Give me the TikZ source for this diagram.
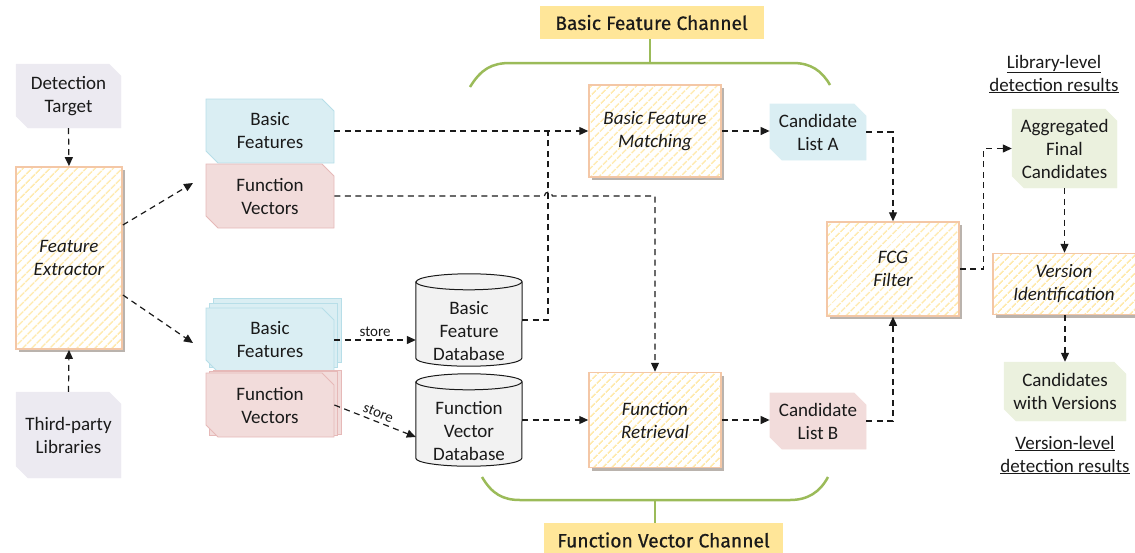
\documentclass[tikz,border=0pt]{standalone}
\usepackage{fontspec}
\setmainfont{Carlito}
\newfontfamily\chfont{Fira Sans}[FakeBold=0.6]
\usetikzlibrary{arrows.meta,shapes.misc,patterns.meta,shadows,calc}
\definecolor{lav}{HTML}{ECEAF1}
\definecolor{blu}{HTML}{DAEEF3}
\definecolor{bluD}{HTML}{B7DEE8}
\definecolor{pnk}{HTML}{F2DCDB}
\definecolor{pnkD}{HTML}{E6B9B8}
\definecolor{grn}{HTML}{EBF1DE}
\definecolor{hatch}{HTML}{FFEAAE}
\definecolor{procB}{HTML}{F4C7A6}
\definecolor{chan}{HTML}{FFE699}
\definecolor{bracec}{HTML}{9BBB59}
\definecolor{cylf}{HTML}{F2F2F2}
\definecolor{ln}{HTML}{1A1A1A}
\tikzset{
  every node/.style={font=\fontsize{19}{23}\selectfont, align=center, inner sep=0pt, text=ln},
  snip/.style={chamfered rectangle, chamfered rectangle corners={north east,south west},
    chamfered rectangle xsep=6pt, chamfered rectangle ysep=6pt},
  lavbox/.style={snip, fill=lav, draw=lav},
  blubox/.style={snip, fill=blu, draw=bluD, line width=0.8pt, minimum width=128pt, minimum height=64pt},
  pnkbox/.style={snip, fill=pnk, draw=pnkD, line width=0.8pt, minimum width=128pt, minimum height=64pt},
  grnbox/.style={snip, fill=grn, draw=grn},
  proc/.style={draw=procB, line width=1.5pt,
    drop shadow={shadow xshift=2.5pt, shadow yshift=-3pt, opacity=0.35, fill=black!70!brown},
    preaction={fill=white},
    pattern={Lines[angle=45,distance=6.5pt,line width=1.8pt]}, pattern color=hatch,
    font=\fontsize{19}{23}\selectfont\itshape},
  dl/.style={draw=ln, line width=1.2pt, dash pattern=on 6pt off 4.5pt},
  arr/.style={dl, -{Triangle[length=9pt,width=8pt]}},
  cylst/.style={draw=ln, line width=1pt, fill=cylf},
  bracel/.style={draw=bracec, line width=2.5pt},
  chanbox/.style={fill=chan, font=\chfont\fontsize{19.3}{22}\selectfont},
  store/.style={font=\fontsize{15}{18}\selectfont}
}
\begin{document}
\begin{tikzpicture}[x=1pt,y=-1pt]
\useasboundingbox (0,0) rectangle (1135,552);

% left column
\node[lavbox, minimum width=105pt, minimum height=64pt] (dt) at (68.5,96) {Detection\\Target};
\node[proc, minimum width=106pt, minimum height=182pt] (fe) at (69,258) {Feature\\Extractor};
\node[lavbox, minimum width=105pt, minimum height=86pt] (tp) at (68.5,435) {Third-party\\Libraries};

% feature boxes (top)
\node[blubox] (bf1) at (270,131) {Basic\\Features};
\node[pnkbox] (fv1) at (270,196) {Function\\Vectors};

% stacked boxes (bottom)
\node[blubox] (bf2c) at (277,330) {};
\node[blubox] (bf2b) at (273.5,335) {};
\node[blubox] (bf2) at (270,340) {Basic\\Features};
\node[pnkbox] (fv2c) at (277,402) {};
\node[pnkbox] (fv2b) at (273.5,403.5) {};
\node[pnkbox] (fv2) at (270,405) {Function\\Vectors};

% databases
\node[minimum width=106pt, minimum height=92pt] (bfdb) at (469,320) {};
\draw[cylst] ([yshift=-8pt]bfdb.north west) -- ([yshift=8pt]bfdb.south west)
  arc[start angle=180,end angle=360,x radius=53pt,y radius=8pt]
  -- ([yshift=-8pt]bfdb.north east)
  arc[start angle=0,end angle=180,x radius=53pt,y radius=8pt] -- cycle;
\draw[cylst, fill=none] ([yshift=-8pt]bfdb.north west) arc[start angle=180,end angle=360,x radius=53pt,y radius=8pt];
\node (bfdbt) at (469,331) {Basic\\Feature\\Database};

\node[minimum width=106pt, minimum height=92pt] (fvdb) at (469,420) {};
\draw[cylst] ([yshift=-8pt]fvdb.north west) -- ([yshift=8pt]fvdb.south west)
  arc[start angle=180,end angle=360,x radius=53pt,y radius=8pt]
  -- ([yshift=-8pt]fvdb.north east)
  arc[start angle=0,end angle=180,x radius=53pt,y radius=8pt] -- cycle;
\draw[cylst, fill=none] ([yshift=-8pt]fvdb.north west) arc[start angle=180,end angle=360,x radius=53pt,y radius=8pt];
\node (fvdbt) at (469,431) {Function\\Vector\\Database};

% process boxes
\node[proc, minimum width=132pt, minimum height=92pt] (bfm) at (655,131) {Basic Feature\\Matching};
\node[proc, minimum width=132pt, minimum height=95pt] (fr) at (655,420) {Function\\Retrieval};
\node[blubox, draw=blu, minimum width=96pt, minimum height=56pt] (cla) at (818,132) {Candidate\\List A};
\node[pnkbox, draw=pnk, minimum width=96pt, minimum height=56pt] (clb) at (818,421) {Candidate\\List B};
\node[proc, minimum width=132pt, minimum height=94pt] (fcg) at (893,269) {FCG\\Filter};
\node[grnbox, minimum width=105pt, minimum height=79pt] (agg) at (1064.5,148.5) {Aggregated\\Final\\Candidates};
\node[proc, minimum width=144pt, minimum height=61pt] (vi) at (1065,284) {\hspace*{-2pt}Version\\Identification\hspace*{2pt}};
\node[grnbox, minimum width=122pt, minimum height=59pt] (cwv) at (1065,391.5) {Candidates\\with Versions};

\node (libl) at (1054,74) {\underline{Library-level}\\\underline{detection results}};
\node (verl) at (1065,455) {\underline{Version-level}\\\underline{detection results}};

% channels
\node[chanbox, minimum width=224pt, minimum height=33pt] (ch1) at (651.5,22.5) {Basic Feature Channel};
\node[chanbox, minimum width=239pt, minimum height=34pt] (ch2) at (663.5,540) {Function Vector Channel};
\draw[bracel] (470,87) .. controls (481,69) and (492,63) .. (510,63) -- (793,63)
  .. controls (811,63) and (822,71) .. (830,85);
\draw[bracel] (ch1.south -| 650,0) -- (650,63);
\draw[bracel] (482,477) .. controls (492,494) and (503,500) .. (520,500) -- (790,500)
  .. controls (808,500) and (820,492) .. (828,477);
\draw[bracel] (655,500) -- (ch2.north -| 655,0);

% connectors
\coordinate (g1) at (193,183);
\coordinate (g2) at (193,343);
\coordinate (j1) at (548,131);
\draw[arr] (dt.south) -- (fe.north);
\draw[arr] (tp.north) -- (fe.south);
\draw[arr] ([yshift=33pt]fe.east) -- (g1);
\draw[arr] ([yshift=-37pt]fe.east) -- (g2);
\draw[arr] (bf1.east) -- (bfm.west);
\draw[dl] (bfdb.east) -| (j1);
\draw[arr] (fv1.east) -- ++(210,0) arc[start angle=180,end angle=0,radius=4pt] -| (fr.north);
\draw[arr] (bf2.east) -- node[store, above=3pt]{store} (bf2.east -| bfdb.west);
\draw[arr] (fv2.east) -- node[store, sloped, above=3.5pt]{store} ([yshift=-17pt]fvdb.west);
\draw[arr] (fvdb.east) -- (fr.west);
\draw[arr] (bfm.east) -- (bfm.east -| cla.west);
\draw[arr] (fr.east) -- (fr.east -| clb.west);
\draw[arr] (cla.east) -| (fcg.north);
\draw[arr] (clb.east) -| (fcg.south);
\draw[arr] (fcg.east) -- ++(24,0) |- (agg.west);
\draw[arr] (agg.south) -- (agg.south |- vi.north);
\draw[arr] (vi.south) -- (vi.south |- cwv.north);
\end{tikzpicture}
\end{document}
